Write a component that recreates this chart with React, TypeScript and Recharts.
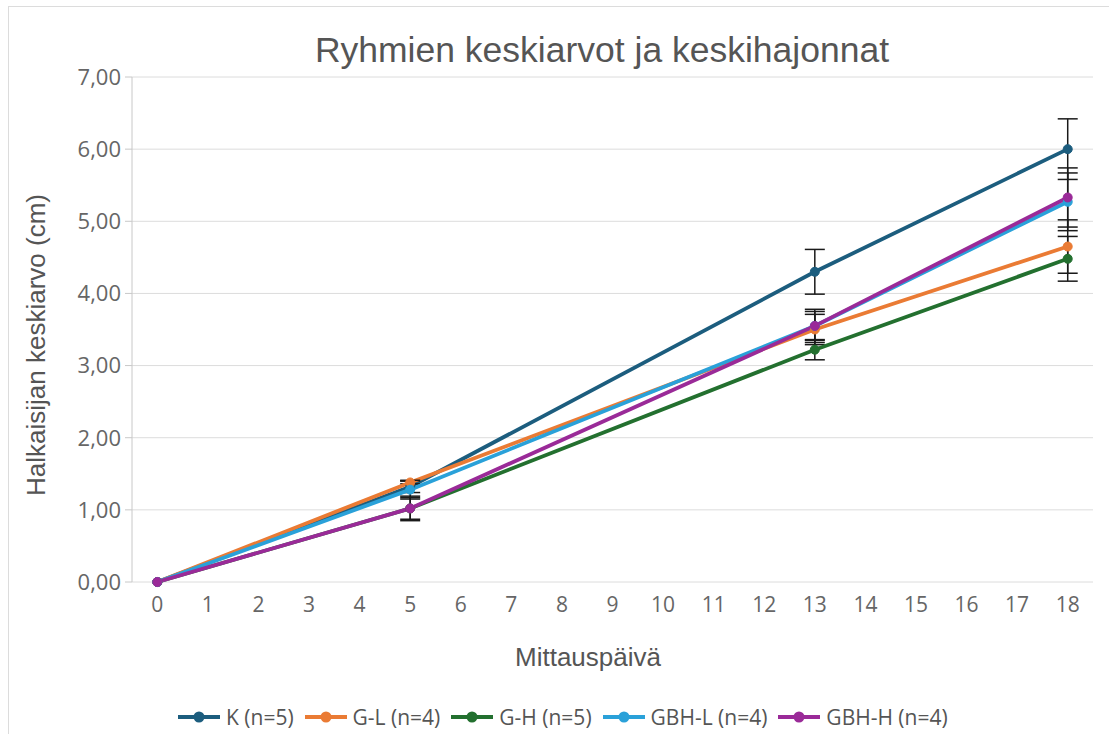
import { LineChart, Line, XAxis, YAxis, CartesianGrid, ErrorBar, Legend } from 'recharts'

// Mittauspäivät
const DAYS = [0, 5, 13, 18]

// Ryhmien keskiarvot (cm) ja keskihajonnat
const K_MEAN = [0, 1.32, 4.3, 6.0]
const K_SD = [0, 0.08, 0.31, 0.42]
const GL_MEAN = [0, 1.38, 3.5, 4.65]
const GL_SD = [0, 0.02, 0.21, 0.37]
const GH_MEAN = [0, 1.02, 3.22, 4.48]
const GH_SD = [0, 0.15, 0.14, 0.31]
const GBHL_MEAN = [0, 1.28, 3.55, 5.27]
const GBHL_SD = [0, 0.13, 0.2, 0.4]
const GBHH_MEAN = [0, 1.02, 3.55, 5.33]
const GBHH_SD = [0, 0.17, 0.23, 0.41]

const X_TICKS = [0, 1, 2, 3, 4, 5, 6, 7, 8, 9, 10, 11, 12, 13, 14, 15, 16, 17, 18]
const Y_TICKS = [0, 1, 2, 3, 4, 5, 6, 7]

const SERIES = [
  { key: 'k', label: 'K (n=5)', color: '#1c5d7e', mean: K_MEAN, sd: K_SD },
  { key: 'gl', label: 'G-L (n=4)', color: '#ea7b34', mean: GL_MEAN, sd: GL_SD },
  { key: 'gh', label: 'G-H (n=5)', color: '#23702f', mean: GH_MEAN, sd: GH_SD },
  { key: 'gbhl', label: 'GBH-L (n=4)', color: '#2aa1d9', mean: GBHL_MEAN, sd: GBHL_SD },
  { key: 'gbhh', label: 'GBH-H (n=4)', color: '#9a2a98', mean: GBHH_MEAN, sd: GBHH_SD },
]

const rows = DAYS.map((day, i) => {
  const row: Record<string, number> = { day }
  for (const s of SERIES) {
    row[s.key] = s.mean[i]
    row[s.key + 'Err'] = s.sd[i]
  }
  return row
})

const fmt = (v: number) => v.toFixed(2).replace('.', ',')

// legend in the same order as the series (recharts would sort it by name)
const LegendContent = () => (
  <div
    style={{
      display: 'flex', alignItems: 'center', height: 30, paddingLeft: 169,
      fontFamily: '"Open Sans", sans-serif', fontSize: 21, color: '#555',
    }}
  >
    {SERIES.map((s) => (
      <div key={s.key} style={{ display: 'flex', alignItems: 'center', marginRight: 11 }}>
        <svg width={42} height={14}>
          <line x1={0} y1={7} x2={42} y2={7} stroke={s.color} strokeWidth={4} />
          <circle cx={21} cy={7} r={5.5} fill={s.color} />
        </svg>
        <span style={{ marginLeft: 6 }}>{s.label}</span>
      </div>
    ))}
  </div>
)

export default function App() {
  return (
    <>
      <style>{'body{margin:0;overflow:hidden}'}</style>
      <div
        style={{
          position: 'absolute', left: 8, top: 6, width: 1100, height: 727,
          borderLeft: '1px solid #dcdcdc', borderTop: '1px solid #dcdcdc', background: '#fff',
        }}
      >
        <div
          style={{
            position: 'absolute', left: 0, top: 26, width: 1186, textAlign: 'center',
            fontFamily: '"Liberation Sans", Arial, sans-serif', fontSize: 35.5, lineHeight: '35px', color: '#555',
          }}
        >
          Ryhmien keskiarvot ja keskihajonnat
        </div>
        <LineChart
          width={1100}
          height={727}
          data={rows}
          margin={{ top: 70, right: 16, left: 0, bottom: 2 }}
        >
          <CartesianGrid vertical={false} stroke="#dcdcdc" />
          <XAxis
            dataKey="day"
            type="number"
            domain={[-0.5, 18.5]}
            ticks={X_TICKS}
            interval={0}
            height={120}
            axisLine={false}
            tickLine={false}
            tickMargin={9}
            tick={{ fill: '#666', fontSize: 21, fontFamily: '"Open Sans", sans-serif' }}
            label={{
              content: () => (
                <text x={579} y={659} textAnchor="middle" fill="#555"
                  style={{ fontFamily: '"Liberation Sans", Arial, sans-serif', fontSize: 26 }}>
                  Mittauspäivä
                </text>
              ),
            }}
          />
          <YAxis
            domain={[0, 7]}
            ticks={Y_TICKS}
            width={123}
            tickFormatter={fmt}
            axisLine={{ stroke: '#c8c8c8' }}
            tickLine={{ stroke: '#c8c8c8' }}
            tickSize={7}
            tickMargin={4}
            tick={{ fill: '#666', fontSize: 22, fontFamily: '"Open Sans", sans-serif' }}
            label={{
              content: () => (
                <text x={27} y={338} textAnchor="middle" dominantBaseline="central"
                  transform="rotate(-90, 27, 338)" fill="#555"
                  style={{ fontFamily: '"Liberation Sans", Arial, sans-serif', fontSize: 26 }}>
                  Halkaisijan keskiarvo (cm)
                </text>
              ),
            }}
          />
          <Legend verticalAlign="bottom" content={LegendContent} wrapperStyle={{ left: 0, width: 1100 }} />
          {SERIES.map((s) => (
            <Line
              key={s.key}
              dataKey={s.key}
              name={s.label}
              type="linear"
              stroke={s.color}
              strokeWidth={3.8}
              dot={{ r: 4.5, fill: s.color, stroke: s.color, strokeWidth: 1 }}
              activeDot={false}
              isAnimationActive={false}
            >
              <ErrorBar dataKey={s.key + 'Err'} width={10} stroke="#1a1a1a" strokeWidth={1.5} direction="y" isAnimationActive={false} />
            </Line>
          ))}
        </LineChart>
      </div>
    </>
  )
}
